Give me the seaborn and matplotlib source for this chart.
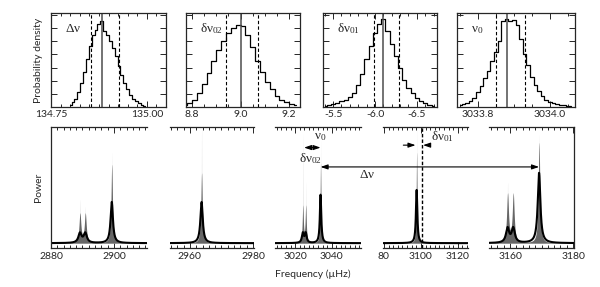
import numpy as np
import matplotlib
matplotlib.use('Agg')
import matplotlib.pyplot as plt
from matplotlib.ticker import MultipleLocator, FixedLocator, FixedFormatter, NullFormatter
import seaborn as sns

# ---- posterior histograms (top row): bin centres start/step + normalised density ----
dnu_start, dnu_step = 134.800, 0.0075
dnu_density = [0.02, 0.05, 0.09, 0.16, 0.26, 0.38, 0.52, 0.66, 0.78, 0.84, 0.90, 0.93,
               0.82, 0.78, 0.72, 0.64, 0.55, 0.45, 0.35, 0.26, 0.19, 0.13, 0.09, 0.06,
               0.04, 0.02, 0.01]

d02_start, d02_step = 8.77, 0.02
d02_density = [0.02, 0.04, 0.08, 0.15, 0.25, 0.37, 0.50, 0.62, 0.72, 0.80, 0.86, 0.89,
               0.88, 0.78, 0.65, 0.50, 0.38, 0.27, 0.19, 0.12, 0.08, 0.05, 0.03, 0.02]

d01_start, d01_step = -5.40, -0.05
d01_density = [0.01, 0.02, 0.03, 0.04, 0.06, 0.08, 0.11, 0.15, 0.24, 0.36, 0.52, 0.66,
               0.80, 0.90, 0.95, 0.82, 0.68, 0.55, 0.42, 0.29, 0.21, 0.15, 0.10, 0.06,
               0.04, 0.02, 0.01]

nu0_start, nu0_step = 3033.75, 0.01
nu0_density = [0.02, 0.03, 0.04, 0.06, 0.10, 0.16, 0.23, 0.31, 0.39, 0.50, 0.60, 0.72,
               0.93, 0.96, 0.93, 0.94, 0.89, 0.74, 0.58, 0.46, 0.33, 0.24, 0.17, 0.12,
               0.08, 0.05, 0.04, 0.03, 0.02, 0.02, 0.01, 0.01]

hist_labels = [r'$\mathregular{Δν}$', r'$\mathregular{δν_{02}}$',
               r'$\mathregular{δν_{01}}$', r'$\mathregular{ν_{0}}$']
hist_median = [134.883, 9.00, -6.09, 3033.88]
hist_lo = [134.854, 8.94, -5.99, 3033.85]
hist_hi = [134.927, 9.07, -6.29, 3033.93]
hist_xlim = [(134.75, 135.05), (8.775, 9.245), (-5.38, -6.74), (3033.742, 3034.07)]
hist_ticks = [[134.75, 135.00], [8.8, 9.0, 9.2], [-5.5, -6.0, -6.5], [3033.8, 3034.0]]
hist_ticklabels = [['134.75', '135.00'], ['8.8', '9.0', '9.2'],
                   ['-5.5', '-6.0', '-6.5'], ['3033.8', '3034.0']]
hist_minor = [0.025, 0.05, 0.1, 0.05]

# ---- power spectrum model (bottom row): mode frequency, heights, widths ----
mode_freq = [2889.2, 2890.9, 2899.3, 2963.7, 3024.2, 3025.8, 3033.9, 3097.7,
             3159.2, 3161.0, 3169.2]
mode_fit_height = [0.08, 0.08, 0.34, 0.34, 0.08, 0.08, 0.40, 0.44, 0.12, 0.12, 0.58]
mode_sample_height = [0.24, 0.24, 0.65, 0.58, 0.30, 0.30, 0.66, 0.75, 0.40, 0.40, 0.83]
mode_spike_height = [0.36, 0.30, 0.75, 0.97, 0.90, 0.50, 0.85, 0.97, 0.50, 0.40, 0.90]
mode_width = [0.6, 0.6, 0.45, 0.45, 0.6, 0.6, 0.45, 0.45, 0.6, 0.6, 0.5]
background = 0.04

power_xlim = [(2880, 2910.5), (2953.7, 2980.3), (3009, 3056), (3079.5, 3125.5), (3153.3, 3180.3)]
power_ticks = [[2880, 2900], [2960, 2980], [3020, 3040], [3080, 3100, 3120], [3160, 3180]]
power_ticklabels = [['2880', '2900'], ['2960', '2980'], ['3020', '3040'],
                    ['80', '3100', '3120'], ['3160', '3180']]
power_minor = [2, 2, 2.5, 2.5, 2]

nu0 = 3033.9
nu_l0_next = 3169.2
nu_l2 = 3024.9
nu_l1 = 3097.7
nu_mid = 3100.6


def lorentz_sum(f, heights, widths):
    out = np.full_like(f, background)
    for f0, h, g in zip(mode_freq, heights, widths):
        out += h / (1 + ((f - f0) / g) ** 2)
    return out


sns.set_theme(style='ticks')
plt.rcParams['font.family'] = ['Lato', 'DejaVu Sans']
plt.rcParams['mathtext.fontset'] = 'custom'
plt.rcParams['axes.linewidth'] = 0.9
plt.rcParams['xtick.labelsize'] = 7.5

fig = plt.figure(figsize=(6.0, 2.87), dpi=100)

# top row
top_px = [(51, 166), (186, 300), (323, 437), (457, 575)]
hist_data = [(dnu_start, dnu_step, dnu_density), (d02_start, d02_step, d02_density),
             (d01_start, d01_step, d01_density), (nu0_start, nu0_step, nu0_density)]
serif = ['Liberation Serif', 'DejaVu Serif']

for i, (x0, x1) in enumerate(top_px):
    ax = fig.add_axes([x0 / 600, 1 - 107 / 287, (x1 - x0) / 600, 94 / 287])
    start, step, dens = hist_data[i]
    xs = start + step * np.arange(len(dens))
    sns.lineplot(x=xs, y=dens, ax=ax, color='black', lw=0.9,
                 drawstyle='steps-mid', sort=False)
    ax.axvline(hist_median[i], color='0.3', lw=1.1)
    ax.axvline(hist_lo[i], color='black', lw=0.8, ls=(0, (3, 2)))
    ax.axvline(hist_hi[i], color='black', lw=0.8, ls=(0, (3, 2)))
    ax.set_xlim(*hist_xlim[i])
    ax.set_ylim(0, 1.02)
    ax.xaxis.set_major_locator(FixedLocator(hist_ticks[i]))
    ax.xaxis.set_major_formatter(FixedFormatter(hist_ticklabels[i]))
    ax.xaxis.set_minor_locator(MultipleLocator(hist_minor[i]))
    ax.yaxis.set_major_locator(MultipleLocator(1 / 7))
    ax.yaxis.set_major_formatter(NullFormatter())
    ax.tick_params(which='both', direction='in', top=True, right=True,
                   left=True, bottom=True, width=0.7, pad=2)
    ax.tick_params(which='major', length=4)
    ax.tick_params(which='minor', length=2.5)
    ax.text(0.12, 0.8, hist_labels[i], transform=ax.transAxes, fontsize=9.5,
            family=serif)
    if i == 0:
        ax.set_ylabel('Probability density', fontsize=7.5, labelpad=4)

# bottom row
bot_px = [(51, 147), (170, 254), (275, 361), (383, 468), (489, 574)]
bot_axes = []
for i, (x0, x1) in enumerate(bot_px):
    ax = fig.add_axes([x0 / 600, 1 - 248 / 287, (x1 - x0) / 600, 121 / 287])
    ax.patch.set_alpha(0)
    f = np.linspace(*power_xlim[i], 4000)
    spike = lorentz_sum(f, mode_spike_height, [w * 0.2 for w in mode_width])
    sample = lorentz_sum(f, mode_sample_height, [w * 0.6 for w in mode_width])
    fit = lorentz_sum(f, mode_fit_height, mode_width)
    ax.fill_between(f, background, spike, color='0.87', lw=0)
    ax.fill_between(f, background, sample, color='0.4', lw=0)
    sns.lineplot(x=f, y=fit, ax=ax, color='black', lw=1.5)
    ax.set_xlim(*power_xlim[i])
    ax.set_ylim(0, 1)
    ax.xaxis.set_major_locator(FixedLocator(power_ticks[i]))
    ax.xaxis.set_major_formatter(FixedFormatter(power_ticklabels[i]))
    ax.xaxis.set_minor_locator(MultipleLocator(power_minor[i]))
    ax.set_yticks([])
    ax.tick_params(which='both', direction='in', top=True, bottom=True,
                   width=0.7, pad=3)
    ax.tick_params(which='major', length=4)
    ax.tick_params(which='minor', length=2.5)
    ax.spines['left'].set_visible(i == 0)
    ax.spines['right'].set_visible(i == len(bot_px) - 1)
    bot_axes.append(ax)

bot_axes[0].set_ylabel('Power', fontsize=7.5, labelpad=6)
fig.text(313 / 600, 1 - 274 / 287, 'Frequency (µHz)', fontsize=7.5,
         ha='center', va='center')

# annotations
ax3, ax4, ax5 = bot_axes[2], bot_axes[3], bot_axes[4]
head = '<|-|>,head_length=0.35,head_width=0.12'
ax5.annotate('', xy=(nu_l0_next, 0.67), xycoords=ax5.transData,
             xytext=(nu0, 0.67), textcoords=ax3.transData,
             arrowprops=dict(arrowstyle=head, color='black', lw=0.8,
                             shrinkA=0, shrinkB=0),
             annotation_clip=False)
fig.text(367 / 600, 1 - 175 / 287, r'$\mathregular{Δν}$', fontsize=9.5,
         family=serif, ha='center', va='center')

ax3.annotate('', xy=(nu0, 0.83), xytext=(nu_l2, 0.83),
             arrowprops=dict(arrowstyle=head, color='black', lw=0.8,
                             shrinkA=0, shrinkB=0), annotation_clip=False)
ax3.text(3028.5, 0.74, r'$\mathregular{δν_{02}}$', fontsize=9.5, family=serif,
         ha='center', va='center')
ax3.text(nu0 - 0.3, 0.92, r'$\mathregular{ν_{0}}$', fontsize=9.5, family=serif,
         ha='center', va='center')

ax4.axvline(nu_mid, color='black', lw=1.0, ls=(0, (2.5, 1.5)))
one_head = '-|>,head_length=0.35,head_width=0.12'
ax4.annotate('', xy=(nu_l1 - 0.6, 0.85), xytext=(nu_l1 - 7.2, 0.85),
             arrowprops=dict(arrowstyle=one_head, color='black', lw=0.8,
                             shrinkA=0, shrinkB=0))
ax4.annotate('', xy=(nu_mid + 0.6, 0.85), xytext=(nu_mid + 4.6, 0.85),
             arrowprops=dict(arrowstyle=one_head, color='black', lw=0.8,
                             shrinkA=0, shrinkB=0))
ax4.text(3111.5, 0.92, r'$\mathregular{δν_{01}}$', fontsize=9.5, family=serif,
         ha='center', va='center')

fig.savefig('out.png', dpi=100)
